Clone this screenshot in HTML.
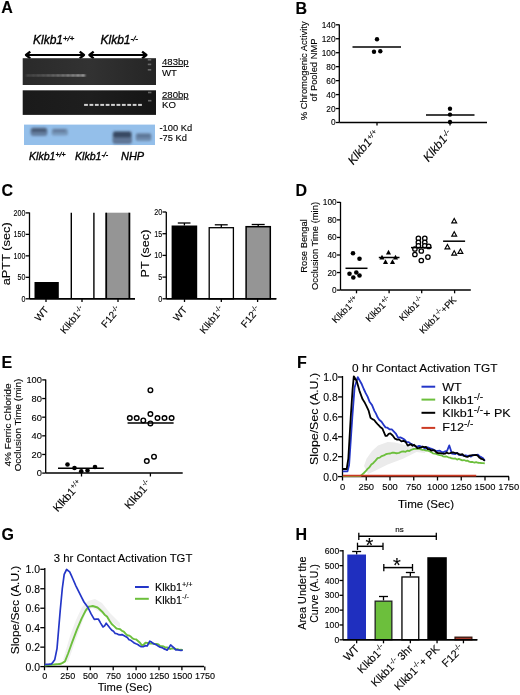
<!DOCTYPE html>
<html><head><meta charset="utf-8"><style>
html,body{margin:0;padding:0;background:#fff;overflow:hidden;width:520px;height:695px;}
svg{display:block;filter:blur(0.3px);}
text{font-family:"Liberation Sans", sans-serif;fill:#000;stroke:#000;stroke-width:0.12px;}
.hv text{stroke-width:0.35px;}
</style></head><body>
<svg width="520" height="695" viewBox="0 0 520 695">
<text x="1.30" y="13.30" font-size="16" font-weight="bold" >A</text>
<g class="hv">
<text x="33.00" y="43.70" font-size="12" font-style="italic">Klkb1<tspan font-size="7.8" dy="-3.00">+/+</tspan></text>
<text x="100.50" y="43.70" font-size="12" font-style="italic">Klkb1<tspan font-size="7.8" dy="-3.00">-/-</tspan></text>
</g>
<line x1="26.00" y1="55.00" x2="84.00" y2="55.00" stroke="#000" stroke-width="2.0"/>
<polyline points="30.28,51.70 26.00,55.00 30.28,58.30" fill="none" stroke="#000" stroke-width="2.3" stroke-linejoin="round" />
<polyline points="79.72,51.70 84.00,55.00 79.72,58.30" fill="none" stroke="#000" stroke-width="2.3" stroke-linejoin="round" />
<line x1="89.40" y1="55.00" x2="146.40" y2="55.00" stroke="#000" stroke-width="2.0"/>
<polyline points="93.68,51.70 89.40,55.00 93.68,58.30" fill="none" stroke="#000" stroke-width="2.3" stroke-linejoin="round" />
<polyline points="142.12,51.70 146.40,55.00 142.12,58.30" fill="none" stroke="#000" stroke-width="2.3" stroke-linejoin="round" />
<defs><linearGradient id="gel" x1="0" y1="0" x2="1" y2="0"><stop offset="0" stop-color="#2a2a2a"/><stop offset="0.5" stop-color="#323232"/><stop offset="1" stop-color="#252525"/></linearGradient><linearGradient id="gelv" x1="0" y1="0" x2="0" y2="1"><stop offset="0" stop-color="#000" stop-opacity="0"/><stop offset="1" stop-color="#000" stop-opacity="0.25"/></linearGradient><filter id="blur1"><feGaussianBlur stdDeviation="0.6"/></filter><filter id="blur2"><feGaussianBlur stdDeviation="1.0"/></filter><filter id="blur3"><feGaussianBlur stdDeviation="0.7"/></filter></defs>
<rect x="22.70" y="58.20" width="133.30" height="26.80" fill="url(#gel)"/>
<defs><linearGradient id="gel2" x1="0" y1="0" x2="1" y2="0"><stop offset="0" stop-color="#1a1a1a"/><stop offset="0.5" stop-color="#1e1e1e"/><stop offset="1" stop-color="#151515"/></linearGradient></defs>
<rect x="22.70" y="90.30" width="133.30" height="24.60" fill="url(#gel2)"/>
<g filter="url(#blur2)">
<rect x="26.40" y="74.4" width="4.2" height="2.0" fill="#fff" opacity="0.22"/>
<rect x="31.35" y="74.4" width="4.2" height="2.0" fill="#fff" opacity="0.25"/>
<rect x="36.30" y="74.4" width="4.2" height="2.0" fill="#fff" opacity="0.29"/>
<rect x="41.25" y="74.4" width="4.2" height="2.0" fill="#fff" opacity="0.33"/>
<rect x="46.20" y="74.4" width="4.2" height="2.0" fill="#fff" opacity="0.38"/>
<rect x="51.15" y="74.4" width="4.2" height="2.0" fill="#fff" opacity="0.44"/>
<rect x="56.10" y="74.4" width="4.2" height="2.0" fill="#fff" opacity="0.49"/>
<rect x="61.05" y="74.4" width="4.2" height="2.0" fill="#fff" opacity="0.55"/>
<rect x="66.00" y="74.4" width="4.2" height="2.0" fill="#fff" opacity="0.62"/>
<rect x="70.95" y="74.4" width="4.2" height="2.0" fill="#fff" opacity="0.68"/>
<rect x="75.90" y="74.4" width="4.2" height="2.0" fill="#fff" opacity="0.75"/>
<rect x="80.85" y="74.4" width="4.2" height="2.0" fill="#fff" opacity="0.82"/>
</g>
<rect x="147.8" y="59.00" width="3.4" height="1.6" fill="#999" opacity="0.6" filter="url(#blur1)"/>
<rect x="147.8" y="63.60" width="3.4" height="1.6" fill="#999" opacity="0.6" filter="url(#blur1)"/>
<rect x="147.8" y="69.00" width="3.4" height="1.6" fill="#999" opacity="0.6" filter="url(#blur1)"/>
<g filter="url(#blur3)">
<rect x="84.10" y="103.9" width="3.8" height="2.0" fill="#fff" opacity="0.8"/>
<rect x="89.50" y="103.9" width="3.8" height="2.0" fill="#fff" opacity="0.8"/>
<rect x="94.90" y="103.9" width="3.8" height="2.0" fill="#fff" opacity="0.8"/>
<rect x="100.30" y="103.9" width="3.8" height="2.0" fill="#fff" opacity="0.8"/>
<rect x="105.70" y="103.9" width="3.8" height="2.0" fill="#fff" opacity="0.8"/>
<rect x="111.10" y="103.9" width="3.8" height="2.0" fill="#fff" opacity="0.8"/>
<rect x="116.50" y="103.9" width="3.8" height="2.0" fill="#fff" opacity="0.8"/>
<rect x="121.90" y="103.9" width="3.8" height="2.0" fill="#fff" opacity="0.8"/>
<rect x="127.30" y="103.9" width="3.8" height="2.0" fill="#fff" opacity="0.8"/>
<rect x="132.70" y="103.9" width="3.8" height="2.0" fill="#fff" opacity="0.8"/>
<rect x="138.10" y="103.9" width="3.8" height="2.0" fill="#fff" opacity="0.8"/>
</g>
<rect x="148" y="91.70" width="3.4" height="1.6" fill="#999" opacity="0.6" filter="url(#blur1)"/>
<rect x="148" y="99.90" width="3.4" height="1.6" fill="#999" opacity="0.6" filter="url(#blur1)"/>
<rect x="24.00" y="124.60" width="131.00" height="20.40" fill="#94bfea"/>
<g filter="url(#blur2)">
<rect x="30.5" y="127.5" width="17" height="8.5" rx="3" fill="#46546e" opacity="0.6"/>
<rect x="31.5" y="128.5" width="15" height="3.5" rx="1.5" fill="#1e2638" opacity="0.4"/>
<rect x="51.5" y="128.5" width="16.5" height="7" rx="2.5" fill="#54647e" opacity="0.45"/>
<rect x="53" y="129.5" width="13" height="2.5" rx="1" fill="#2a3450" opacity="0.3"/>
<rect x="112.5" y="131" width="19.5" height="13" rx="3" fill="#3a465e" opacity="0.6"/>
<rect x="113.5" y="132" width="17.5" height="5.5" rx="2" fill="#161e30" opacity="0.5"/>
<rect x="135.5" y="133" width="16" height="8" rx="2.5" fill="#4a5a74" opacity="0.5"/>
<rect x="137" y="134.5" width="13.5" height="3" rx="1" fill="#2a3450" opacity="0.25"/>
</g>
<text x="162.00" y="65.00" font-size="9.6" text-decoration="underline">483bp</text>
<text x="162.00" y="76.30" font-size="9.6" >WT</text>
<text x="162.00" y="97.60" font-size="9.6" text-decoration="underline">280bp</text>
<text x="162.00" y="108.20" font-size="9.6" >KO</text>
<text x="159.50" y="131.20" font-size="9.3" >-100 Kd</text>
<text x="159.50" y="141.40" font-size="9.3" >-75 Kd</text>
<g class="hv">
<text x="29.00" y="159.90" font-size="10.6" font-style="italic">Klkb1<tspan font-size="7" dy="-2.60">+/+</tspan></text>
<text x="75.00" y="159.90" font-size="10.6" font-style="italic">Klkb1<tspan font-size="7" dy="-2.60">-/-</tspan></text>
<text x="121.00" y="159.90" font-size="10.6" font-style="italic" textLength="23.2" lengthAdjust="spacingAndGlyphs" >NHP</text>
</g>
<text x="295.50" y="13.50" font-size="16" font-weight="bold" >B</text>
<line x1="339.30" y1="24.50" x2="339.30" y2="122.50" stroke="#000" stroke-width="1.3"/>
<line x1="335.80" y1="122.50" x2="339.30" y2="122.50" stroke="#000" stroke-width="1.3"/>
<text x="335.50" y="125.49" font-size="8.3" text-anchor="end" >0</text>
<line x1="335.80" y1="108.54" x2="339.30" y2="108.54" stroke="#000" stroke-width="1.3"/>
<text x="335.50" y="111.53" font-size="8.3" text-anchor="end" >20</text>
<line x1="335.80" y1="94.58" x2="339.30" y2="94.58" stroke="#000" stroke-width="1.3"/>
<text x="335.50" y="97.57" font-size="8.3" text-anchor="end" >40</text>
<line x1="335.80" y1="80.62" x2="339.30" y2="80.62" stroke="#000" stroke-width="1.3"/>
<text x="335.50" y="83.61" font-size="8.3" text-anchor="end" >60</text>
<line x1="335.80" y1="66.66" x2="339.30" y2="66.66" stroke="#000" stroke-width="1.3"/>
<text x="335.50" y="69.65" font-size="8.3" text-anchor="end" >80</text>
<line x1="335.80" y1="52.70" x2="339.30" y2="52.70" stroke="#000" stroke-width="1.3"/>
<text x="335.50" y="55.69" font-size="8.3" text-anchor="end" >100</text>
<line x1="335.80" y1="38.74" x2="339.30" y2="38.74" stroke="#000" stroke-width="1.3"/>
<text x="335.50" y="41.73" font-size="8.3" text-anchor="end" >120</text>
<line x1="335.80" y1="24.78" x2="339.30" y2="24.78" stroke="#000" stroke-width="1.3"/>
<text x="335.50" y="27.77" font-size="8.3" text-anchor="end" >140</text>
<line x1="339.30" y1="122.50" x2="487.00" y2="122.50" stroke="#000" stroke-width="1.5"/>
<line x1="377.00" y1="122.50" x2="377.00" y2="125.50" stroke="#000" stroke-width="1.3"/>
<line x1="450.00" y1="122.50" x2="450.00" y2="125.50" stroke="#000" stroke-width="1.3"/>
<text x="306.60" y="70.80" font-size="9.4" text-anchor="middle" transform="rotate(-90 306.60 70.80)" textLength="99" lengthAdjust="spacingAndGlyphs" >% Chromogenic Activity</text>
<text x="317.30" y="70.00" font-size="9.4" text-anchor="middle" transform="rotate(-90 317.30 70.00)" textLength="63" lengthAdjust="spacingAndGlyphs" >of Pooled NMP</text>
<circle cx="377.00" cy="39.20" r="2.2" fill="#000"/>
<circle cx="374.00" cy="51.80" r="2.2" fill="#000"/>
<circle cx="380.30" cy="51.20" r="2.2" fill="#000"/>
<line x1="352.50" y1="47.00" x2="401.00" y2="47.00" stroke="#000" stroke-width="1.5"/>
<circle cx="450.00" cy="108.80" r="2.2" fill="#000"/>
<circle cx="450.00" cy="114.60" r="2.2" fill="#000"/>
<circle cx="450.00" cy="122.00" r="2.2" fill="#000"/>
<line x1="426.00" y1="115.00" x2="474.50" y2="115.00" stroke="#000" stroke-width="1.5"/>
<text x="379.50" y="134.00" font-size="12" text-anchor="end" font-style="italic" transform="rotate(-50 379.50 134.00)">Klkb1<tspan font-size="7.6" dy="-3.20">+/+</tspan></text>
<text x="452.50" y="134.00" font-size="12" text-anchor="end" font-style="italic" transform="rotate(-50 452.50 134.00)">Klkb1<tspan font-size="7.6" dy="-3.20">-/-</tspan></text>
<text x="1.50" y="196.20" font-size="16" font-weight="bold" >C</text>
<line x1="29.50" y1="212.50" x2="29.50" y2="298.80" stroke="#000" stroke-width="1.3"/>
<line x1="25.70" y1="298.80" x2="29.50" y2="298.80" stroke="#000" stroke-width="1.3"/>
<text x="25.40" y="301.75" font-size="8.2" text-anchor="end" textLength="3.93" lengthAdjust="spacingAndGlyphs" >0</text>
<line x1="25.70" y1="277.32" x2="29.50" y2="277.32" stroke="#000" stroke-width="1.3"/>
<text x="25.40" y="280.28" font-size="8.2" text-anchor="end" textLength="7.87" lengthAdjust="spacingAndGlyphs" >50</text>
<line x1="25.70" y1="255.85" x2="29.50" y2="255.85" stroke="#000" stroke-width="1.3"/>
<text x="25.40" y="258.80" font-size="8.2" text-anchor="end" textLength="11.80" lengthAdjust="spacingAndGlyphs" >100</text>
<line x1="25.70" y1="234.38" x2="29.50" y2="234.38" stroke="#000" stroke-width="1.3"/>
<text x="25.40" y="237.33" font-size="8.2" text-anchor="end" textLength="11.80" lengthAdjust="spacingAndGlyphs" >150</text>
<line x1="25.70" y1="212.90" x2="29.50" y2="212.90" stroke="#000" stroke-width="1.3"/>
<text x="25.40" y="215.85" font-size="8.2" text-anchor="end" textLength="11.80" lengthAdjust="spacingAndGlyphs" >200</text>
<line x1="29.50" y1="298.80" x2="135.00" y2="298.80" stroke="#000" stroke-width="1.5"/>
<line x1="46.00" y1="298.80" x2="46.00" y2="302.00" stroke="#000" stroke-width="1.3"/>
<line x1="82.00" y1="298.80" x2="82.00" y2="302.00" stroke="#000" stroke-width="1.3"/>
<line x1="118.00" y1="298.80" x2="118.00" y2="302.00" stroke="#000" stroke-width="1.3"/>
<rect x="34.50" y="282.00" width="24.30" height="16.80" fill="#000"/>
<line x1="71.30" y1="212.70" x2="71.30" y2="298.80" stroke="#000" stroke-width="1.4"/>
<line x1="93.90" y1="212.70" x2="93.90" y2="298.80" stroke="#000" stroke-width="1.4"/>
<rect x="106.30" y="212.70" width="23.20" height="86.10" fill="#959595"/>
<line x1="106.20" y1="212.70" x2="106.20" y2="298.80" stroke="#000" stroke-width="1.8"/>
<line x1="129.40" y1="212.70" x2="129.40" y2="298.80" stroke="#000" stroke-width="1.8"/>
<line x1="29.50" y1="298.80" x2="135.00" y2="298.80" stroke="#000" stroke-width="1.5"/>
<text x="9.70" y="253.80" font-size="10.6" text-anchor="middle" transform="rotate(-90 9.70 253.80)" textLength="63" lengthAdjust="spacingAndGlyphs" >aPTT (sec)</text>
<line x1="166.30" y1="212.00" x2="166.30" y2="298.80" stroke="#000" stroke-width="1.3"/>
<line x1="162.50" y1="298.80" x2="166.30" y2="298.80" stroke="#000" stroke-width="1.3"/>
<text x="162.20" y="301.75" font-size="8.2" text-anchor="end" textLength="4.00" lengthAdjust="spacingAndGlyphs" >0</text>
<line x1="162.50" y1="277.10" x2="166.30" y2="277.10" stroke="#000" stroke-width="1.3"/>
<text x="162.20" y="280.05" font-size="8.2" text-anchor="end" textLength="4.00" lengthAdjust="spacingAndGlyphs" >5</text>
<line x1="162.50" y1="255.40" x2="166.30" y2="255.40" stroke="#000" stroke-width="1.3"/>
<text x="162.20" y="258.35" font-size="8.2" text-anchor="end" textLength="8.00" lengthAdjust="spacingAndGlyphs" >10</text>
<line x1="162.50" y1="233.70" x2="166.30" y2="233.70" stroke="#000" stroke-width="1.3"/>
<text x="162.20" y="236.65" font-size="8.2" text-anchor="end" textLength="8.00" lengthAdjust="spacingAndGlyphs" >15</text>
<line x1="162.50" y1="212.00" x2="166.30" y2="212.00" stroke="#000" stroke-width="1.3"/>
<text x="162.20" y="214.95" font-size="8.2" text-anchor="end" textLength="8.00" lengthAdjust="spacingAndGlyphs" >20</text>
<line x1="166.30" y1="298.80" x2="276.30" y2="298.80" stroke="#000" stroke-width="1.5"/>
<line x1="184.50" y1="298.80" x2="184.50" y2="302.00" stroke="#000" stroke-width="1.3"/>
<line x1="221.30" y1="298.80" x2="221.30" y2="302.00" stroke="#000" stroke-width="1.3"/>
<line x1="257.60" y1="298.80" x2="257.60" y2="302.00" stroke="#000" stroke-width="1.3"/>
<rect x="171.60" y="225.50" width="25.60" height="73.30" fill="#000"/>
<line x1="184.40" y1="225.50" x2="184.40" y2="223.00" stroke="#000" stroke-width="1.3"/>
<line x1="177.80" y1="223.00" x2="190.50" y2="223.00" stroke="#000" stroke-width="1.3"/>
<rect x="209.20" y="227.70" width="24.20" height="71.10" fill="#fff" stroke="#000" stroke-width="1.3"/>
<line x1="221.30" y1="227.70" x2="221.30" y2="224.80" stroke="#000" stroke-width="1.3"/>
<line x1="214.80" y1="224.80" x2="227.70" y2="224.80" stroke="#000" stroke-width="1.3"/>
<rect x="246.10" y="226.70" width="24.20" height="72.10" fill="#959595" stroke="#000" stroke-width="1.5"/>
<line x1="258.20" y1="226.70" x2="258.20" y2="224.50" stroke="#000" stroke-width="1.3"/>
<line x1="251.70" y1="224.50" x2="264.70" y2="224.50" stroke="#000" stroke-width="1.3"/>
<line x1="166.30" y1="298.80" x2="276.30" y2="298.80" stroke="#000" stroke-width="1.5"/>
<text x="149.00" y="253.50" font-size="10.8" text-anchor="middle" transform="rotate(-90 149.00 253.50)" textLength="47.8" lengthAdjust="spacingAndGlyphs" >PT (sec)</text>
<text x="49.20" y="310.00" font-size="10" text-anchor="end" transform="rotate(-50 49.20 310.00)" >WT</text>
<text x="85.20" y="310.00" font-size="10" text-anchor="end" transform="rotate(-50 85.20 310.00)">Klkb1<tspan font-size="7" dy="-3.60">-/-</tspan></text>
<text x="121.20" y="310.00" font-size="10" text-anchor="end" transform="rotate(-50 121.20 310.00)">F12<tspan font-size="7" dy="-3.60">-/-</tspan></text>
<text x="187.70" y="310.00" font-size="10" text-anchor="end" transform="rotate(-50 187.70 310.00)" >WT</text>
<text x="224.50" y="310.00" font-size="10" text-anchor="end" transform="rotate(-50 224.50 310.00)">Klkb1<tspan font-size="7" dy="-3.60">-/-</tspan></text>
<text x="260.80" y="310.00" font-size="10" text-anchor="end" transform="rotate(-50 260.80 310.00)">F12<tspan font-size="7" dy="-3.60">-/-</tspan></text>
<text x="295.50" y="196.30" font-size="16" font-weight="bold" >D</text>
<line x1="340.50" y1="202.00" x2="340.50" y2="290.10" stroke="#000" stroke-width="1.3"/>
<line x1="337.00" y1="290.10" x2="340.50" y2="290.10" stroke="#000" stroke-width="1.3"/>
<text x="336.70" y="293.09" font-size="8.3" text-anchor="end" >0</text>
<line x1="337.00" y1="272.55" x2="340.50" y2="272.55" stroke="#000" stroke-width="1.3"/>
<text x="336.70" y="275.54" font-size="8.3" text-anchor="end" >20</text>
<line x1="337.00" y1="255.00" x2="340.50" y2="255.00" stroke="#000" stroke-width="1.3"/>
<text x="336.70" y="257.98" font-size="8.3" text-anchor="end" >40</text>
<line x1="337.00" y1="237.44" x2="340.50" y2="237.44" stroke="#000" stroke-width="1.3"/>
<text x="336.70" y="240.43" font-size="8.3" text-anchor="end" >60</text>
<line x1="337.00" y1="219.89" x2="340.50" y2="219.89" stroke="#000" stroke-width="1.3"/>
<text x="336.70" y="222.88" font-size="8.3" text-anchor="end" >80</text>
<line x1="337.00" y1="202.34" x2="340.50" y2="202.34" stroke="#000" stroke-width="1.3"/>
<text x="336.70" y="205.33" font-size="8.3" text-anchor="end" >100</text>
<line x1="340.50" y1="290.10" x2="470.80" y2="290.10" stroke="#000" stroke-width="1.5"/>
<line x1="356.50" y1="290.10" x2="356.50" y2="293.30" stroke="#000" stroke-width="1.3"/>
<line x1="389.10" y1="290.10" x2="389.10" y2="293.30" stroke="#000" stroke-width="1.3"/>
<line x1="421.70" y1="290.10" x2="421.70" y2="293.30" stroke="#000" stroke-width="1.3"/>
<line x1="454.60" y1="290.10" x2="454.60" y2="293.30" stroke="#000" stroke-width="1.3"/>
<text x="307.10" y="246.00" font-size="9.4" text-anchor="middle" transform="rotate(-90 307.10 246.00)" >Rose Bengal</text>
<text x="318.30" y="246.00" font-size="9.4" text-anchor="middle" transform="rotate(-90 318.30 246.00)" >Occlusion Time (min)</text>
<circle cx="353.00" cy="253.30" r="2.3" fill="#000"/>
<circle cx="359.50" cy="258.80" r="2.3" fill="#000"/>
<circle cx="349.50" cy="273.80" r="2.3" fill="#000"/>
<circle cx="356.30" cy="272.50" r="2.3" fill="#000"/>
<circle cx="353.30" cy="277.50" r="2.3" fill="#000"/>
<circle cx="359.50" cy="275.50" r="2.3" fill="#000"/>
<line x1="345.50" y1="268.30" x2="367.50" y2="268.30" stroke="#000" stroke-width="1.5"/>
<polygon points="388.50,249.80 385.94,254.39 391.06,254.39" fill="#000"/>
<polygon points="382.00,254.80 379.44,259.39 384.56,259.39" fill="#000"/>
<polygon points="395.50,254.80 392.94,259.39 398.06,259.39" fill="#000"/>
<polygon points="385.50,259.30 382.94,263.89 388.06,263.89" fill="#000"/>
<polygon points="392.50,259.30 389.94,263.89 395.06,263.89" fill="#000"/>
<line x1="378.80" y1="257.50" x2="399.50" y2="257.50" stroke="#000" stroke-width="1.5"/>
<circle cx="418.40" cy="238.40" r="2.2" fill="#fff" stroke="#000" stroke-width="1.3"/>
<circle cx="424.80" cy="238.40" r="2.2" fill="#fff" stroke="#000" stroke-width="1.3"/>
<circle cx="418.40" cy="242.40" r="2.2" fill="#fff" stroke="#000" stroke-width="1.3"/>
<circle cx="424.80" cy="242.40" r="2.2" fill="#fff" stroke="#000" stroke-width="1.3"/>
<circle cx="418.40" cy="245.80" r="2.2" fill="#fff" stroke="#000" stroke-width="1.3"/>
<circle cx="424.80" cy="245.80" r="2.2" fill="#fff" stroke="#000" stroke-width="1.3"/>
<circle cx="414.90" cy="249.00" r="2.2" fill="#fff" stroke="#000" stroke-width="1.3"/>
<circle cx="428.70" cy="246.40" r="2.2" fill="#fff" stroke="#000" stroke-width="1.3"/>
<circle cx="421.30" cy="251.00" r="2.2" fill="#fff" stroke="#000" stroke-width="1.3"/>
<circle cx="414.90" cy="254.50" r="2.2" fill="#fff" stroke="#000" stroke-width="1.3"/>
<circle cx="427.90" cy="257.10" r="2.2" fill="#fff" stroke="#000" stroke-width="1.3"/>
<circle cx="421.30" cy="260.50" r="2.2" fill="#fff" stroke="#000" stroke-width="1.3"/>
<line x1="411.00" y1="247.60" x2="431.70" y2="247.60" stroke="#000" stroke-width="1.5"/>
<polygon points="454.20,218.50 451.73,222.92 456.67,222.92" fill="#fff" stroke="#000" stroke-width="1.1"/>
<polygon points="454.20,231.70 451.73,236.12 456.67,236.12" fill="#fff" stroke="#000" stroke-width="1.1"/>
<polygon points="447.40,244.50 444.93,248.92 449.87,248.92" fill="#fff" stroke="#000" stroke-width="1.1"/>
<polygon points="454.20,250.70 451.73,255.12 456.67,255.12" fill="#fff" stroke="#000" stroke-width="1.1"/>
<polygon points="460.40,249.00 457.93,253.42 462.87,253.42" fill="#fff" stroke="#000" stroke-width="1.1"/>
<line x1="443.10" y1="241.20" x2="465.10" y2="241.20" stroke="#000" stroke-width="1.5"/>
<text x="359.00" y="300.50" font-size="9.4" text-anchor="end" transform="rotate(-45 359.00 300.50)">Klkb1<tspan font-size="6.5" dy="-3.57">+/+</tspan></text>
<text x="391.50" y="300.50" font-size="9.4" text-anchor="end" transform="rotate(-45 391.50 300.50)">Klkb1<tspan font-size="6.5" dy="-3.57">+/-</tspan></text>
<text x="424.00" y="300.50" font-size="9.4" text-anchor="end" transform="rotate(-45 424.00 300.50)">Klkb1<tspan font-size="6.5" dy="-3.57">-/-</tspan></text>
<text x="457" y="300.5" font-size="9.4" text-anchor="end" transform="rotate(-45 457 300.5)">Klkb1<tspan font-size="6.5" dy="-3.5">-/-</tspan><tspan dy="3.5">+PK</tspan></text>
<text x="1.50" y="368.00" font-size="16" font-weight="bold" >E</text>
<line x1="45.70" y1="379.50" x2="45.70" y2="473.10" stroke="#000" stroke-width="1.3"/>
<line x1="42.20" y1="473.10" x2="45.70" y2="473.10" stroke="#000" stroke-width="1.3"/>
<text x="41.90" y="476.45" font-size="9.3" text-anchor="end" >0</text>
<line x1="42.20" y1="454.46" x2="45.70" y2="454.46" stroke="#000" stroke-width="1.3"/>
<text x="41.90" y="457.81" font-size="9.3" text-anchor="end" >20</text>
<line x1="42.20" y1="435.82" x2="45.70" y2="435.82" stroke="#000" stroke-width="1.3"/>
<text x="41.90" y="439.17" font-size="9.3" text-anchor="end" >40</text>
<line x1="42.20" y1="417.18" x2="45.70" y2="417.18" stroke="#000" stroke-width="1.3"/>
<text x="41.90" y="420.53" font-size="9.3" text-anchor="end" >60</text>
<line x1="42.20" y1="398.54" x2="45.70" y2="398.54" stroke="#000" stroke-width="1.3"/>
<text x="41.90" y="401.89" font-size="9.3" text-anchor="end" >80</text>
<line x1="42.20" y1="379.90" x2="45.70" y2="379.90" stroke="#000" stroke-width="1.3"/>
<text x="41.90" y="383.25" font-size="9.3" text-anchor="end" >100</text>
<line x1="45.70" y1="473.10" x2="182.70" y2="473.10" stroke="#000" stroke-width="1.5"/>
<line x1="81.50" y1="473.10" x2="81.50" y2="476.50" stroke="#000" stroke-width="1.3"/>
<line x1="150.40" y1="473.10" x2="150.40" y2="476.50" stroke="#000" stroke-width="1.3"/>
<text x="11.40" y="425.00" font-size="9.8" text-anchor="middle" transform="rotate(-90 11.40 425.00)" textLength="83" lengthAdjust="spacingAndGlyphs" >4% Ferric Chloride</text>
<text x="21.30" y="425.00" font-size="9.8" text-anchor="middle" transform="rotate(-90 21.30 425.00)" textLength="92.6" lengthAdjust="spacingAndGlyphs" >Occlusion Time (min)</text>
<circle cx="67.50" cy="464.50" r="2.3" fill="#000"/>
<circle cx="74.50" cy="468.00" r="2.3" fill="#000"/>
<circle cx="81.25" cy="471.25" r="2.3" fill="#000"/>
<circle cx="87.50" cy="470.50" r="2.3" fill="#000"/>
<circle cx="95.00" cy="467.00" r="2.3" fill="#000"/>
<line x1="58.00" y1="468.20" x2="103.80" y2="468.20" stroke="#000" stroke-width="1.5"/>
<circle cx="150.40" cy="390.20" r="2.3" fill="#fff" stroke="#000" stroke-width="1.4"/>
<circle cx="150.40" cy="414.00" r="2.3" fill="#fff" stroke="#000" stroke-width="1.4"/>
<circle cx="129.80" cy="418.00" r="2.3" fill="#fff" stroke="#000" stroke-width="1.4"/>
<circle cx="136.70" cy="418.00" r="2.3" fill="#fff" stroke="#000" stroke-width="1.4"/>
<circle cx="157.50" cy="418.00" r="2.3" fill="#fff" stroke="#000" stroke-width="1.4"/>
<circle cx="164.50" cy="418.00" r="2.3" fill="#fff" stroke="#000" stroke-width="1.4"/>
<circle cx="171.60" cy="418.00" r="2.3" fill="#fff" stroke="#000" stroke-width="1.4"/>
<circle cx="143.30" cy="420.40" r="2.3" fill="#fff" stroke="#000" stroke-width="1.4"/>
<circle cx="150.40" cy="423.40" r="2.3" fill="#fff" stroke="#000" stroke-width="1.4"/>
<circle cx="146.80" cy="461.10" r="2.3" fill="#fff" stroke="#000" stroke-width="1.4"/>
<circle cx="154.00" cy="456.70" r="2.3" fill="#fff" stroke="#000" stroke-width="1.4"/>
<line x1="127.60" y1="423.00" x2="173.60" y2="423.00" stroke="#000" stroke-width="1.5"/>
<text x="83.00" y="484.50" font-size="11" text-anchor="end" transform="rotate(-48 83.00 484.50)">Klkb1<tspan font-size="7" dy="-4.18">+/+</tspan></text>
<text x="152.00" y="484.50" font-size="11" text-anchor="end" transform="rotate(-48 152.00 484.50)">Klkb1<tspan font-size="7" dy="-4.18">-/-</tspan></text>
<text x="297.00" y="368.00" font-size="16" font-weight="bold" >F</text>
<line x1="342.50" y1="376.00" x2="342.50" y2="476.60" stroke="#000" stroke-width="1.3"/>
<line x1="338.00" y1="476.60" x2="342.50" y2="476.60" stroke="#000" stroke-width="1.3"/>
<text x="337.70" y="480.78" font-size="11.6" text-anchor="end" textLength="14.50" lengthAdjust="spacingAndGlyphs" >0.0</text>
<line x1="338.00" y1="456.68" x2="342.50" y2="456.68" stroke="#000" stroke-width="1.3"/>
<text x="337.70" y="460.86" font-size="11.6" text-anchor="end" textLength="14.50" lengthAdjust="spacingAndGlyphs" >0.2</text>
<line x1="338.00" y1="436.76" x2="342.50" y2="436.76" stroke="#000" stroke-width="1.3"/>
<text x="337.70" y="440.94" font-size="11.6" text-anchor="end" textLength="14.50" lengthAdjust="spacingAndGlyphs" >0.4</text>
<line x1="338.00" y1="416.84" x2="342.50" y2="416.84" stroke="#000" stroke-width="1.3"/>
<text x="337.70" y="421.02" font-size="11.6" text-anchor="end" textLength="14.50" lengthAdjust="spacingAndGlyphs" >0.6</text>
<line x1="338.00" y1="396.92" x2="342.50" y2="396.92" stroke="#000" stroke-width="1.3"/>
<text x="337.70" y="401.10" font-size="11.6" text-anchor="end" textLength="14.50" lengthAdjust="spacingAndGlyphs" >0.8</text>
<line x1="338.00" y1="377.00" x2="342.50" y2="377.00" stroke="#000" stroke-width="1.3"/>
<text x="337.70" y="381.18" font-size="11.6" text-anchor="end" textLength="14.50" lengthAdjust="spacingAndGlyphs" >1.0</text>
<line x1="342.50" y1="476.60" x2="509.00" y2="476.60" stroke="#000" stroke-width="1.5"/>
<line x1="342.50" y1="476.60" x2="342.50" y2="480.50" stroke="#000" stroke-width="1.3"/>
<text x="342.50" y="490.00" font-size="9.4" text-anchor="middle" >0</text>
<line x1="366.25" y1="476.60" x2="366.25" y2="480.50" stroke="#000" stroke-width="1.3"/>
<text x="366.25" y="490.00" font-size="9.4" text-anchor="middle" >250</text>
<line x1="390.00" y1="476.60" x2="390.00" y2="480.50" stroke="#000" stroke-width="1.3"/>
<text x="390.00" y="490.00" font-size="9.4" text-anchor="middle" >500</text>
<line x1="413.75" y1="476.60" x2="413.75" y2="480.50" stroke="#000" stroke-width="1.3"/>
<text x="413.75" y="490.00" font-size="9.4" text-anchor="middle" >750</text>
<line x1="437.50" y1="476.60" x2="437.50" y2="480.50" stroke="#000" stroke-width="1.3"/>
<text x="437.50" y="490.00" font-size="9.4" text-anchor="middle" >1000</text>
<line x1="461.25" y1="476.60" x2="461.25" y2="480.50" stroke="#000" stroke-width="1.3"/>
<text x="461.25" y="490.00" font-size="9.4" text-anchor="middle" >1250</text>
<line x1="485.00" y1="476.60" x2="485.00" y2="480.50" stroke="#000" stroke-width="1.3"/>
<text x="485.00" y="490.00" font-size="9.4" text-anchor="middle" >1500</text>
<line x1="508.75" y1="476.60" x2="508.75" y2="480.50" stroke="#000" stroke-width="1.3"/>
<text x="508.75" y="490.00" font-size="9.4" text-anchor="middle" >1750</text>
<text x="398.00" y="508.00" font-size="11.5" textLength="56" lengthAdjust="spacingAndGlyphs" >Time (Sec)</text>
<text x="317.80" y="418.90" font-size="11.3" text-anchor="middle" transform="rotate(-90 317.80 418.90)" textLength="92" lengthAdjust="spacingAndGlyphs" >Slope/Sec (A.U.)</text>
<text x="352.00" y="371.50" font-size="11.2" textLength="145.5" lengthAdjust="spacingAndGlyphs" >0 hr Contact Activation TGT</text>
<polygon points="364,466 366.5,458.8 372,451 378,445.4 387.7,442 395,442.5 403,444.4 416.5,448.3 425,451 425,453 416.5,452 403,458.8 387.7,464.6 374.2,471.3 368,474" fill="#ebebeb"/>
<polyline points="342.80,476.20 344.54,476.20 346.28,476.20 348.02,476.20 349.76,476.20 351.50,476.20 353.24,476.20 354.98,476.20 356.72,476.20 358.46,476.20 360.20,476.20 362.03,474.60 363.87,473.00 365.70,471.19 367.57,468.85 369.43,467.31 371.30,464.49 373.40,462.94 375.50,460.64 377.60,458.17 379.70,457.64 381.80,456.01 383.90,455.42 385.50,454.38 387.10,453.81 388.70,453.61 390.30,453.49 392.40,452.65 394.50,452.77 396.60,453.25 399.00,452.89 401.40,451.69 403.50,451.31 405.60,451.84 407.70,450.56 409.30,451.11 410.90,450.01 412.50,449.42 414.10,448.97 415.70,448.79 417.30,448.98 419.04,448.60 420.78,449.46 422.52,449.91 424.26,449.97 426.00,450.56 427.72,450.62 429.44,451.25 431.16,452.07 432.88,453.28 434.60,453.61 436.28,453.94 437.96,454.72 439.64,455.02 441.32,455.30 443.00,456.35 444.78,456.64 446.56,456.49 448.34,457.29 450.12,457.63 451.90,458.45 453.63,458.63 455.36,458.45 457.09,459.63 458.82,458.94 460.55,459.65 462.28,460.41 464.01,460.03 465.74,460.79 467.47,460.60 469.20,461.70 470.93,462.02 472.67,461.99 474.40,462.55 476.13,462.08 477.87,462.73 479.60,462.81 481.33,463.00 483.07,463.05 484.80,463.30" fill="none" stroke="#6cbf3c" stroke-width="1.8" stroke-linejoin="round" />
<line x1="343" y1="475.6" x2="476.2" y2="475.6" stroke="#cc3b24" stroke-width="1.8"/>
<polyline points="342.80,471.40 345.15,471.40 347.50,471.40 349.10,465.00 352.30,417.50 354.60,387.40 357.80,377.10 359.80,380.70 361.80,384.30 363.75,389.00 365.70,393.18 367.70,396.89 369.70,402.06 372.05,405.08 374.40,410.84 376.00,413.62 377.60,417.28 379.20,419.81 381.55,421.78 383.90,425.15 385.50,427.37 387.10,427.55 389.45,429.32 391.80,429.47 393.93,431.72 396.07,433.96 398.20,437.89 400.30,437.28 402.40,438.34 404.50,439.46 406.60,442.17 408.70,442.08 410.42,443.49 412.14,444.31 413.86,445.64 415.58,446.10 417.30,446.80 419.04,445.81 420.78,446.41 422.52,446.59 424.26,448.05 426.00,448.51 427.72,447.33 429.44,447.99 431.16,448.71 432.88,449.31 434.60,450.47 436.34,451.10 438.08,450.78 439.82,450.61 441.56,451.92 443.30,452.21 445.15,451.40 447.00,451.00 449.30,445.42 451.90,453.53 453.64,453.86 455.38,454.09 457.12,452.82 458.86,454.78 460.60,454.62 462.32,455.32 464.04,455.66 465.76,455.26 467.48,455.78 469.20,455.63 470.94,456.60 472.68,455.14 474.42,454.95 476.16,455.06 477.90,454.76 479.62,456.45 481.35,457.12 483.07,458.30 484.80,460.70" fill="none" stroke="#2436c8" stroke-width="1.8" stroke-linejoin="round" />
<polyline points="342.80,469.00 344.75,469.00 346.70,469.00 348.30,458.70 350.70,417.50 352.60,389.00 353.80,376.30 356.70,381.00 359.40,390.60 362.50,399.09 364.50,402.16 366.50,406.05 368.50,410.32 370.50,417.67 372.33,419.10 374.17,419.99 376.00,422.36 378.10,424.74 380.20,426.91 382.30,428.42 385.50,435.91 387.10,435.75 388.70,433.84 390.30,433.36 392.65,435.47 395.00,438.67 397.13,439.56 399.27,439.62 401.40,441.36 403.50,440.92 405.60,441.86 407.70,445.57 409.30,444.87 410.90,444.28 412.50,445.71 414.10,444.77 415.70,446.47 417.30,448.04 419.04,447.92 420.78,447.67 422.52,446.72 424.26,447.17 426.00,446.83 427.72,449.11 429.44,449.18 431.16,450.53 432.88,450.06 434.60,450.48 436.34,452.35 438.08,453.14 439.82,453.14 441.56,453.36 443.30,453.73 445.02,453.68 446.74,452.51 448.46,453.43 450.18,453.16 451.90,452.48 453.64,452.47 455.38,453.13 457.12,453.07 458.86,454.20 460.60,454.89 462.32,454.08 464.04,455.88 465.76,456.53 467.48,456.96 469.20,455.95 470.94,455.41 472.68,455.27 474.42,455.03 476.16,454.89 477.90,455.82 479.62,457.84 481.35,458.99 483.07,459.35 484.80,460.70" fill="none" stroke="#000" stroke-width="1.8" stroke-linejoin="round" />
<line x1="421.50" y1="386.70" x2="435.20" y2="386.70" stroke="#2436c8" stroke-width="2.0"/>
<line x1="421.50" y1="399.60" x2="435.20" y2="399.60" stroke="#6cbf3c" stroke-width="2.0"/>
<line x1="421.50" y1="412.80" x2="435.20" y2="412.80" stroke="#000" stroke-width="2.0"/>
<line x1="421.50" y1="427.90" x2="435.20" y2="427.90" stroke="#cc3b24" stroke-width="2.0"/>
<g transform="translate(442.3 0) scale(1.12 1)">
<text x="0.00" y="390.60" font-size="11.2" >WT</text>
<text x="0.00" y="403.70" font-size="11.2">Klkb1<tspan font-size="9" dy="-4.00">-/-</tspan></text>
<text x="0" y="417.3" font-size="11.2">Klkb1<tspan font-size="9" dy="-4.0">-/-</tspan><tspan dy="4.0">+ PK</tspan></text>
<text x="0.00" y="431.30" font-size="11.2">F12<tspan font-size="9" dy="-4.00">-/-</tspan></text>
</g>
<text x="1.50" y="539.50" font-size="16" font-weight="bold" >G</text>
<line x1="44.80" y1="568.00" x2="44.80" y2="666.60" stroke="#000" stroke-width="1.3"/>
<line x1="40.30" y1="666.60" x2="44.80" y2="666.60" stroke="#000" stroke-width="1.3"/>
<text x="40.00" y="670.67" font-size="11.3" text-anchor="end" textLength="14.50" lengthAdjust="spacingAndGlyphs" >0.0</text>
<line x1="40.30" y1="647.14" x2="44.80" y2="647.14" stroke="#000" stroke-width="1.3"/>
<text x="40.00" y="651.21" font-size="11.3" text-anchor="end" textLength="14.50" lengthAdjust="spacingAndGlyphs" >0.2</text>
<line x1="40.30" y1="627.68" x2="44.80" y2="627.68" stroke="#000" stroke-width="1.3"/>
<text x="40.00" y="631.75" font-size="11.3" text-anchor="end" textLength="14.50" lengthAdjust="spacingAndGlyphs" >0.4</text>
<line x1="40.30" y1="608.22" x2="44.80" y2="608.22" stroke="#000" stroke-width="1.3"/>
<text x="40.00" y="612.29" font-size="11.3" text-anchor="end" textLength="14.50" lengthAdjust="spacingAndGlyphs" >0.6</text>
<line x1="40.30" y1="588.76" x2="44.80" y2="588.76" stroke="#000" stroke-width="1.3"/>
<text x="40.00" y="592.83" font-size="11.3" text-anchor="end" textLength="14.50" lengthAdjust="spacingAndGlyphs" >0.8</text>
<line x1="40.30" y1="569.30" x2="44.80" y2="569.30" stroke="#000" stroke-width="1.3"/>
<text x="40.00" y="573.37" font-size="11.3" text-anchor="end" textLength="14.50" lengthAdjust="spacingAndGlyphs" >1.0</text>
<line x1="44.80" y1="666.60" x2="204.00" y2="666.60" stroke="#000" stroke-width="1.5"/>
<line x1="44.50" y1="666.60" x2="44.50" y2="670.30" stroke="#000" stroke-width="1.3"/>
<text x="44.80" y="679.00" font-size="8.7" text-anchor="middle" textLength="5.0" lengthAdjust="spacingAndGlyphs" >0</text>
<line x1="67.40" y1="666.60" x2="67.40" y2="670.30" stroke="#000" stroke-width="1.3"/>
<text x="67.70" y="679.00" font-size="8.7" text-anchor="middle" textLength="15.0" lengthAdjust="spacingAndGlyphs" >250</text>
<line x1="90.30" y1="666.60" x2="90.30" y2="670.30" stroke="#000" stroke-width="1.3"/>
<text x="90.60" y="679.00" font-size="8.7" text-anchor="middle" textLength="15.0" lengthAdjust="spacingAndGlyphs" >500</text>
<line x1="113.20" y1="666.60" x2="113.20" y2="670.30" stroke="#000" stroke-width="1.3"/>
<text x="113.50" y="679.00" font-size="8.7" text-anchor="middle" textLength="15.0" lengthAdjust="spacingAndGlyphs" >750</text>
<line x1="136.10" y1="666.60" x2="136.10" y2="670.30" stroke="#000" stroke-width="1.3"/>
<text x="136.40" y="679.00" font-size="8.7" text-anchor="middle" textLength="20.0" lengthAdjust="spacingAndGlyphs" >1000</text>
<line x1="159.00" y1="666.60" x2="159.00" y2="670.30" stroke="#000" stroke-width="1.3"/>
<text x="159.30" y="679.00" font-size="8.7" text-anchor="middle" textLength="20.0" lengthAdjust="spacingAndGlyphs" >1250</text>
<line x1="181.90" y1="666.60" x2="181.90" y2="670.30" stroke="#000" stroke-width="1.3"/>
<text x="182.20" y="679.00" font-size="8.7" text-anchor="middle" textLength="20.0" lengthAdjust="spacingAndGlyphs" >1500</text>
<line x1="204.80" y1="666.60" x2="204.80" y2="670.30" stroke="#000" stroke-width="1.3"/>
<text x="205.10" y="679.00" font-size="8.7" text-anchor="middle" textLength="20.0" lengthAdjust="spacingAndGlyphs" >1750</text>
<text x="97.70" y="690.50" font-size="11.2" >Time (Sec)</text>
<text x="18.50" y="610.00" font-size="11.2" text-anchor="middle" transform="rotate(-90 18.50 610.00)" textLength="88.5" lengthAdjust="spacingAndGlyphs" >Slope/Sec (A.U.)</text>
<text x="53.80" y="562.30" font-size="11" textLength="138.5" lengthAdjust="spacingAndGlyphs" >3 hr Contact Activation TGT</text>
<polygon points="63,660 70,636 76,620 82,607 88,601 95,599 102,603 110,613 120,623 120,628 110,621 100,612 92,608 86,612 80,628 74,645 68,662" fill="#f0f0f0"/>
<polyline points="44.80,665.50 46.42,665.33 48.04,665.16 49.66,664.99 51.28,664.82 52.90,664.65 54.52,664.48 56.14,664.31 57.76,664.14 59.38,663.97 61.00,663.80 63.00,662.60 65.00,661.40 68.10,653.50 70.10,647.95 72.10,642.40 73.70,638.17 75.30,633.93 76.90,629.70 79.25,624.15 81.60,618.60 83.60,614.65 85.60,610.70 88.70,606.70 90.70,606.35 92.70,606.00 95.10,606.75 97.50,607.50 99.85,609.50 102.20,611.71 104.60,614.67 107.00,616.42 109.35,620.42 111.70,623.97 114.10,626.15 116.50,628.45 118.33,628.87 120.17,629.25 122.00,630.90 123.77,631.63 125.53,633.65 127.30,635.26 129.04,635.49 130.78,636.54 132.52,638.35 134.26,639.07 136.00,639.34 138.00,641.01 140.00,642.78 142.00,645.57 143.73,644.56 145.47,642.77 147.20,642.86 149.15,643.50 151.10,643.47 153.05,643.47 155.00,644.17 156.72,644.03 158.45,644.32 160.18,646.11 161.90,646.11 163.64,646.46 165.38,647.55 167.12,647.37 168.86,648.50 170.60,648.96 172.33,648.34 174.06,648.64 175.79,648.94 177.51,649.11 179.24,649.84 180.97,649.62 182.70,650.20" fill="none" stroke="#6cbf3c" stroke-width="1.9" stroke-linejoin="round" />
<polyline points="44.80,664.60 46.47,664.45 48.15,664.30 49.83,664.15 51.50,664.00 53.10,661.90 54.70,659.80 57.00,648.70 58.60,629.70 60.20,610.70 62.30,588.50 64.20,574.30 66.60,569.50 69.70,571.90 71.30,575.45 72.90,579.00 76.00,586.10 78.00,590.10 80.00,594.10 82.00,598.05 84.00,602.00 86.00,604.75 88.00,607.50 91.10,613.90 92.70,616.65 94.30,619.40 96.30,619.20 98.30,619.00 100.65,623.10 103.00,626.96 104.60,625.89 106.20,623.22 108.15,625.70 110.10,628.20 111.80,630.19 113.50,631.20 115.20,633.40 116.95,633.75 118.70,634.64 120.40,634.93 122.10,634.62 123.80,635.43 125.55,636.42 127.30,637.50 129.05,639.76 130.80,640.31 132.53,641.67 134.27,642.97 136.00,643.77 137.73,644.49 139.47,645.72 141.20,646.77 143.20,646.77 145.20,645.69 147.20,645.97 149.80,641.20 151.54,642.11 153.28,643.59 155.02,644.15 156.76,645.09 158.50,646.21 160.22,647.25 161.94,647.55 163.66,648.62 165.38,649.35 167.10,650.21 168.85,647.83 170.60,644.94 172.33,646.47 174.07,647.84 175.80,649.83 177.53,649.76 179.25,650.20 180.97,650.51 182.70,650.20" fill="none" stroke="#2436c8" stroke-width="1.7" stroke-linejoin="round" />
<line x1="135.00" y1="587.00" x2="148.80" y2="587.00" stroke="#2436c8" stroke-width="2.0"/>
<line x1="135.00" y1="598.80" x2="148.80" y2="598.80" stroke="#6cbf3c" stroke-width="2.0"/>
<text x="155.00" y="591.20" font-size="10.8">Klkb1<tspan font-size="7.3" dy="-4.30">+/+</tspan></text>
<text x="155.00" y="603.50" font-size="10.8">Klkb1<tspan font-size="7.3" dy="-4.30">-/-</tspan></text>
<text x="295.50" y="540.00" font-size="16" font-weight="bold" >H</text>
<line x1="343.00" y1="550.00" x2="343.00" y2="639.80" stroke="#000" stroke-width="1.3"/>
<line x1="339.50" y1="639.80" x2="343.00" y2="639.80" stroke="#000" stroke-width="1.3"/>
<text x="339.20" y="642.90" font-size="8.6" text-anchor="end" >0</text>
<line x1="339.50" y1="624.97" x2="343.00" y2="624.97" stroke="#000" stroke-width="1.3"/>
<text x="339.20" y="628.07" font-size="8.6" text-anchor="end" >100</text>
<line x1="339.50" y1="610.14" x2="343.00" y2="610.14" stroke="#000" stroke-width="1.3"/>
<text x="339.20" y="613.24" font-size="8.6" text-anchor="end" >200</text>
<line x1="339.50" y1="595.31" x2="343.00" y2="595.31" stroke="#000" stroke-width="1.3"/>
<text x="339.20" y="598.41" font-size="8.6" text-anchor="end" >300</text>
<line x1="339.50" y1="580.48" x2="343.00" y2="580.48" stroke="#000" stroke-width="1.3"/>
<text x="339.20" y="583.58" font-size="8.6" text-anchor="end" >400</text>
<line x1="339.50" y1="565.65" x2="343.00" y2="565.65" stroke="#000" stroke-width="1.3"/>
<text x="339.20" y="568.75" font-size="8.6" text-anchor="end" >500</text>
<line x1="339.50" y1="550.82" x2="343.00" y2="550.82" stroke="#000" stroke-width="1.3"/>
<text x="339.20" y="553.92" font-size="8.6" text-anchor="end" >600</text>
<line x1="343.00" y1="639.80" x2="477.30" y2="639.80" stroke="#000" stroke-width="1.5"/>
<line x1="356.65" y1="554.53" x2="356.65" y2="551.50" stroke="#000" stroke-width="1.3"/>
<line x1="352.15" y1="551.50" x2="361.15" y2="551.50" stroke="#000" stroke-width="1.3"/>
<rect x="347.30" y="554.53" width="18.70" height="85.27" fill="#1f2fbf"/>
<line x1="356.65" y1="639.80" x2="356.65" y2="643.30" stroke="#000" stroke-width="1.3"/>
<line x1="383.50" y1="600.50" x2="383.50" y2="596.50" stroke="#000" stroke-width="1.3"/>
<line x1="379.00" y1="596.50" x2="388.00" y2="596.50" stroke="#000" stroke-width="1.3"/>
<rect x="375.15" y="601.15" width="16.70" height="38.65" fill="#6cbf3c" stroke="#222" stroke-width="1.3"/>
<line x1="383.50" y1="639.80" x2="383.50" y2="643.30" stroke="#000" stroke-width="1.3"/>
<line x1="410.35" y1="576.33" x2="410.35" y2="572.50" stroke="#000" stroke-width="1.3"/>
<line x1="405.85" y1="572.50" x2="414.85" y2="572.50" stroke="#000" stroke-width="1.3"/>
<rect x="401.95" y="576.98" width="16.80" height="62.82" fill="#fff" stroke="#000" stroke-width="1.3"/>
<line x1="410.35" y1="639.80" x2="410.35" y2="643.30" stroke="#000" stroke-width="1.3"/>
<rect x="427.30" y="557.20" width="19.50" height="82.60" fill="#000"/>
<line x1="437.05" y1="639.80" x2="437.05" y2="643.30" stroke="#000" stroke-width="1.3"/>
<rect x="455.05" y="637.19" width="16.80" height="2.61" fill="#a8382a" stroke="#3a1810" stroke-width="1.3"/>
<line x1="463.45" y1="639.80" x2="463.45" y2="643.30" stroke="#000" stroke-width="1.3"/>
<line x1="343.00" y1="639.80" x2="477.30" y2="639.80" stroke="#000" stroke-width="1.5"/>
<text x="305.70" y="593.10" font-size="11" text-anchor="middle" transform="rotate(-90 305.70 593.10)" textLength="73.4" lengthAdjust="spacingAndGlyphs" >Area Under the</text>
<text x="317.90" y="593.50" font-size="11" text-anchor="middle" transform="rotate(-90 317.90 593.50)" textLength="58.7" lengthAdjust="spacingAndGlyphs" >Curve (A.U.)</text>
<line x1="358.80" y1="536.30" x2="436.30" y2="536.30" stroke="#000" stroke-width="1.5"/>
<line x1="358.80" y1="532.70" x2="358.80" y2="539.90" stroke="#000" stroke-width="1.3"/>
<line x1="436.30" y1="532.70" x2="436.30" y2="539.90" stroke="#000" stroke-width="1.3"/>
<text x="399.50" y="532.20" font-size="8" text-anchor="middle" >ns</text>
<line x1="357.50" y1="546.30" x2="383.00" y2="546.30" stroke="#000" stroke-width="1.5"/>
<line x1="357.50" y1="542.70" x2="357.50" y2="549.90" stroke="#000" stroke-width="1.3"/>
<line x1="383.00" y1="542.70" x2="383.00" y2="549.90" stroke="#000" stroke-width="1.3"/>
<line x1="383.80" y1="567.60" x2="412.50" y2="567.60" stroke="#000" stroke-width="1.5"/>
<line x1="383.80" y1="564.00" x2="383.80" y2="571.20" stroke="#000" stroke-width="1.3"/>
<line x1="412.50" y1="564.00" x2="412.50" y2="571.20" stroke="#000" stroke-width="1.3"/>
<text x="369.50" y="551.80" font-size="20" text-anchor="middle" >*</text>
<text x="397.00" y="572.40" font-size="20" text-anchor="middle" >*</text>
<text x="360.00" y="649.50" font-size="11" text-anchor="end" transform="rotate(-45 360.00 649.50)" >WT</text>
<text x="386.20" y="649.50" font-size="11" text-anchor="end" transform="rotate(-45 386.20 649.50)">Klkb1<tspan font-size="7.4" dy="-4.20">-/-</tspan></text>
<text x="413.3" y="649.5" font-size="11" text-anchor="end" transform="rotate(-45 413.3 649.5)">Klkb1<tspan font-size="7.4" dy="-4.2">-/-</tspan><tspan dy="4.2"> 3hr</tspan></text>
<text x="440.3" y="649.5" font-size="11" text-anchor="end" transform="rotate(-45 440.3 649.5)">Klkb1<tspan font-size="7.4" dy="-4.2">-/-</tspan><tspan dy="4.2">+ PK</tspan></text>
<text x="464.50" y="649.50" font-size="11" text-anchor="end" transform="rotate(-45 464.50 649.50)">F12<tspan font-size="7.4" dy="-4.20">-/-</tspan></text>
</svg>
</body></html>
